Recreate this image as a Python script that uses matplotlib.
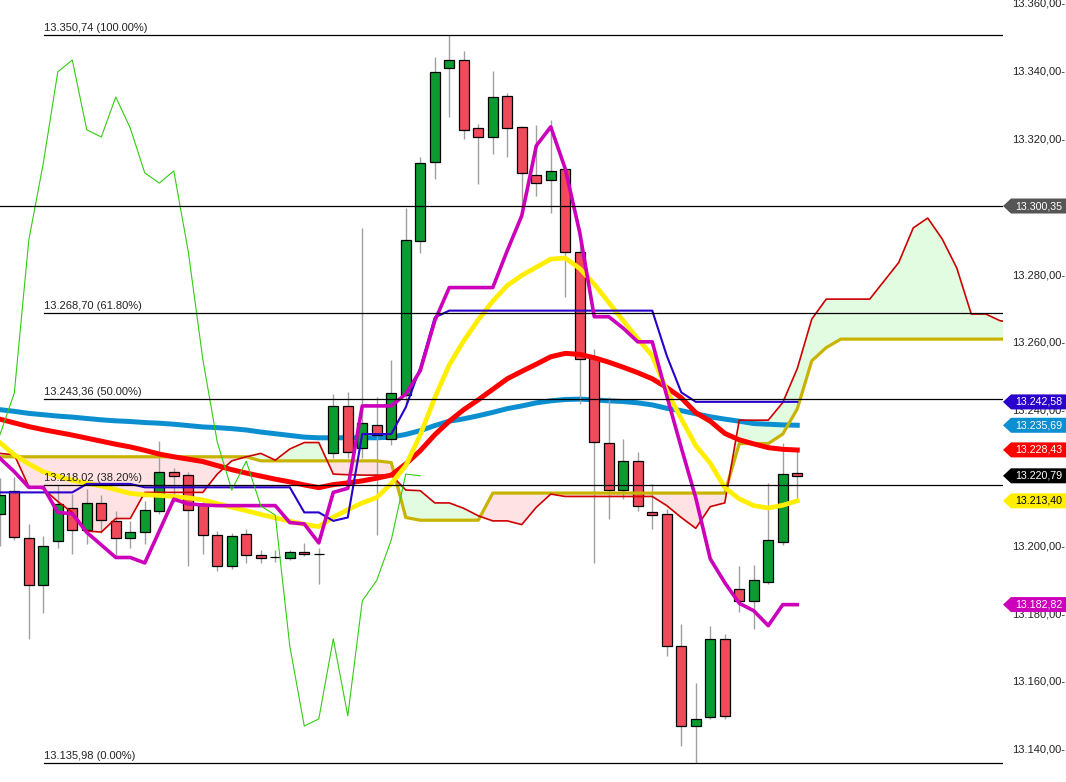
import numpy as np
import matplotlib
matplotlib.use("Agg")
import matplotlib.pyplot as plt
from matplotlib.patches import Polygon

plt.rcParams['font.family'] = ['Liberation Sans', 'DejaVu Sans']

# candles (one per bar, index 0..55)
opens = [13209.6, 13216.4, 13202.4, 13188.6, 13201.6, 13211.3, 13204.9, 13212.8, 13207.5, 13202.4,
         13204.2, 13210.5, 13221.9, 13221.0, 13212.6, 13203.3, 13194.3, 13203.6, 13197.5, 13196.8,
         13196.6, 13198.3, 13197.8, 13227.6, 13241.3, 13229.0, 13235.7, 13231.6, 13244.6, 13290.1,
         13313.3, 13341.0, 13343.4, 13323.3, 13320.7, 13332.8, 13323.6, 13309.5, 13308.0, 13311.3,
         13286.9, 13255.7, 13230.4, 13216.6, 13225.1, 13210.0, 13209.5, 13170.6, 13147.0, 13149.6,
         13172.7, 13187.4, 13183.9, 13189.5, 13201.3, 13221.6]
highs = [13220.0, 13220.5, 13206.6, 13202.9, 13218.2, 13215.5, 13217.0, 13215.0, 13210.5, 13207.5,
         13213.4, 13231.1, 13223.0, 13222.0, 13214.0, 13204.5, 13204.0, 13205.0, 13198.9, 13198.9,
         13198.9, 13201.0, 13199.6, 13245.0, 13245.4, 13294.0, 13243.9, 13255.0, 13299.8, 13314.7,
         13344.2, 13350.7, 13346.1, 13324.5, 13340.2, 13333.8, 13324.0, 13324.3, 13325.8, 13311.5,
         13290.3, 13258.2, 13244.1, 13231.6, 13227.7, 13218.4, 13211.0, 13177.2, 13159.8, 13176.6,
         13174.2, 13194.3, 13194.6, 13218.7, 13230.6, 13228.7]
lows = [13200.2, 13202.0, 13172.7, 13180.2, 13199.5, 13197.7, 13200.6, 13204.0, 13197.2, 13199.6,
        13200.8, 13209.6, 13213.0, 13194.3, 13197.7, 13192.6, 13193.3, 13195.0, 13195.2, 13195.5,
        13196.0, 13197.0, 13189.0, 13226.0, 13226.0, 13226.0, 13203.3, 13230.0, 13242.0, 13286.4,
        13308.3, 13326.5, 13320.0, 13306.8, 13315.7, 13314.7, 13299.9, 13303.2, 13298.3, 13273.4,
        13242.0, 13195.0, 13208.2, 13214.0, 13210.3, 13205.0, 13167.8, 13141.0, 13136.0, 13149.0,
        13149.0, 13180.5, 13175.6, 13189.0, 13200.5, 13213.9]
closes = [13215.2, 13202.6, 13188.6, 13200.1, 13212.5, 13204.8, 13212.8, 13207.8, 13202.5, 13204.2,
          13210.6, 13221.9, 13220.7, 13210.7, 13203.3, 13194.3, 13202.9, 13197.5, 13196.6, 13196.8,
          13198.3, 13197.7, 13197.8, 13241.3, 13227.9, 13236.3, 13232.8, 13245.2, 13290.3, 13313.0,
          13339.9, 13343.4, 13322.8, 13320.7, 13332.5, 13323.3, 13310.1, 13307.1, 13310.7, 13286.9,
          13255.2, 13230.7, 13216.6, 13225.1, 13211.9, 13209.2, 13170.6, 13147.0, 13149.1, 13172.7,
          13150.0, 13183.9, 13190.0, 13201.9, 13221.3, 13220.8]

# moving averages
sma_blue = [13240.3, 13239.8, 13239.2, 13238.8, 13238.4, 13238.1, 13237.7, 13237.3, 13237.0, 13236.8,
            13236.5, 13236.3, 13236.0, 13235.6, 13235.2, 13235.0, 13234.7, 13234.3, 13233.7, 13233.2,
            13232.7, 13232.2, 13232.0, 13232.0, 13232.0, 13232.0, 13232.0, 13232.2, 13233.0, 13234.1,
            13235.6, 13236.9, 13237.6, 13238.5, 13239.5, 13240.6, 13241.4, 13242.3, 13242.9, 13243.3,
            13243.4, 13243.2, 13242.9, 13242.7, 13242.3, 13241.7, 13240.7, 13240.0, 13239.1, 13238.2,
            13237.5, 13236.9, 13236.2, 13236.0, 13235.8, 13235.7]
sma_red = [13237.5, 13236.4, 13235.3, 13234.4, 13233.6, 13232.8, 13231.9, 13231.0, 13230.1, 13229.3,
           13228.3, 13227.2, 13226.4, 13225.7, 13225.0, 13223.8, 13222.6, 13221.6, 13220.7, 13219.8,
           13219.0, 13218.1, 13217.3, 13218.2, 13218.7, 13219.3, 13220.1, 13221.0, 13224.3, 13228.2,
           13232.9, 13236.9, 13240.3, 13243.2, 13246.3, 13249.4, 13251.6, 13253.7, 13255.9, 13256.9,
           13256.6, 13255.6, 13254.3, 13252.8, 13251.2, 13249.4, 13246.8, 13243.8, 13239.4, 13236.9,
           13233.3, 13231.4, 13230.2, 13229.1, 13228.6, 13228.4]
sma_yellow = [13230.6, 13227.0, 13224.3, 13222.0, 13220.6, 13219.5, 13218.6, 13217.8, 13216.7, 13215.6,
              13215.2, 13215.0, 13214.7, 13214.3, 13213.7, 13212.6, 13211.5, 13210.5, 13209.4, 13208.4,
              13207.4, 13206.5, 13205.8, 13208.6, 13210.8, 13212.8, 13214.4, 13218.5, 13223.8, 13232.9,
              13243.8, 13253.5, 13260.6, 13266.8, 13272.3, 13276.9, 13279.9, 13282.3, 13284.7, 13285.0,
              13281.9, 13277.3, 13271.9, 13266.5, 13261.2, 13256.2, 13245.9, 13237.6, 13229.7, 13224.5,
              13217.3, 13214.0, 13212.0, 13211.3, 13212.1, 13213.4]

# ichimoku
tenkan = [13226.0, 13222.0, 13217.4, 13217.4, 13210.0, 13209.6, 13204.1, 13200.4, 13196.7, 13196.7,
          13195.1, 13204.5, 13213.9, 13212.5, 13212.2, 13212.0, 13212.0, 13212.0, 13212.0, 13212.0,
          13207.0, 13206.6, 13201.0, 13215.9, 13217.1, 13241.4, 13241.4, 13241.4, 13244.9, 13251.8,
          13266.5, 13276.3, 13276.3, 13276.3, 13276.3, 13287.2, 13297.5, 13318.1, 13323.7, 13311.3,
          13292.5, 13267.7, 13267.7, 13264.3, 13260.3, 13260.3, 13244.4, 13229.1, 13214.3, 13196.3,
          13189.3, 13183.2, 13181.0, 13176.6, 13182.8, 13182.8]
kijun = [13215.9] * 6 + [13218.4] * 4 + [13217.4] * 11 + \
        [13210.0, 13210.0, 13207.5, 13208.5, 13233.1, 13233.1, 13233.1, 13241.0, 13252.7, 13267.5] + \
        [13269.5] * 15 + [13256.2, 13245.4] + [13242.6] * 8
span_a = [13227.4, 13227.0, 13217.6, 13217.0, 13213.2, 13210.0, 13204.5, 13204.2, 13208.2, 13208.2,
          13215.9, 13215.9, 13215.9, 13215.9, 13215.9, 13221.3, 13225.2, 13226.4, 13227.4, 13225.4,
          13228.7, 13230.6, 13230.6, 13221.3, 13221.1, 13221.0, 13221.0, 13221.0, 13216.6, 13216.4,
          13212.8, 13212.8, 13211.2, 13209.0, 13207.5, 13207.5, 13206.4, 13211.5, 13215.4, 13214.7,
          13214.7, 13214.7, 13214.7, 13214.7, 13214.7, 13214.7, 13212.0, 13208.5, 13205.3, 13211.7,
          13212.8, 13237.2, 13237.2, 13237.2, 13242.4, 13252.4, 13267.0, 13272.9, 13272.9, 13272.9,
          13272.9, 13278.3, 13283.7, 13293.9, 13296.8, 13290.6, 13282.1, 13268.5, 13268.5, 13266.5,
          13266.0]
span_b = [13226.4] * 18 + [13225.2] * 9 + [13224.7, 13208.5] + [13207.7] * 5 + [13215.7] * 17 + \
         [13230.3, 13230.3, 13230.3, 13233.1, 13240.5, 13254.7, 13258.6] + [13261.1] * 13
chikou = closes[26:]

# fibonacci retracement
fib_levels = [13350.74, 13268.70, 13243.36, 13218.02, 13135.98]
fib_labels = ['13.350,74 (100.00%)', '13.268,70 (61.80%)', '13.243,36 (50.00%)',
              '13.218,02 (38.20%)', '13.135,98 (0.00%)']
hline_level = 13300.35

# price tags on the right axis
tag_values = [13300.35, 13242.58, 13235.69, 13228.43, 13220.79, 13213.40, 13182.82]
tag_colors = ['#555555', '#2a00cc', '#0a8fd0', '#ff0000', '#000000', '#ffee00', '#cc00bb']
tag_text_colors = ['white', 'white', 'white', 'white', 'white', 'black', 'white']
# 13.300 and 13.220 sit fully under the tags, so they are not drawn
y_ticks = [13140, 13160, 13180, 13200, 13240, 13260, 13280, 13320, 13340, 13360]


def fmt(v):
    s = f"{v:,.2f}"
    return s.replace(',', 'X').replace('.', ',').replace('X', '.')


W, H = 1066, 782
fig = plt.figure(figsize=(W / 100, H / 100), dpi=100)
ax = fig.add_axes([0, 0, 1003 / W, 1])
ymin, ymax = 13130.5, 13361.1
ax.set_xlim(0.014, 69.19)
ax.set_ylim(ymin, ymax)
ax.axis('off')

x = np.arange(len(closes))
xs = np.arange(len(span_a))
a = np.array(span_a)
b = np.array(span_b)

# cloud fill
ax.fill_between(xs, a, b, where=a >= b, interpolate=True, color='#e2fce2', lw=0, zorder=1)
ax.fill_between(xs, a, b, where=a < b, interpolate=True, color='#ffe2e4', lw=0, zorder=1)

ax.plot(x, sma_blue, color='#0c8fd0', lw=3.6, zorder=2)

# candles
o = np.array(opens)
c = np.array(closes)
ax.vlines(x, lows, highs, color='#a0a0a0', lw=1.0, zorder=3)
cols = ['#0c9b30' if cc > oo else ('#f04b5a' if cc < oo else 'black') for oo, cc in zip(o, c)]
ax.bar(x, np.abs(c - o), bottom=np.minimum(o, c), width=0.69, color=cols,
       edgecolor='black', linewidth=0.9, zorder=4)

# fib + horizontal lines
ax.axhline(hline_level, color='black', lw=0.9, zorder=6)
for lv, lb in zip(fib_levels, fib_labels):
    ax.plot([3.05, 70], [lv, lv], color='black', lw=0.9, zorder=6)
    ax.annotate(lb, (3.05, lv), xytext=(0, 1.5), textcoords='offset points',
                va='bottom', ha='left', fontsize=8, color='#222222', zorder=7)

# ichimoku lines and averages
ax.plot(xs, span_b, color='#c8b400', lw=2.3, zorder=5)
ax.plot(xs, span_a, color='#cc0000', lw=1.2, zorder=5)
ax.plot(x, sma_red, color='#ff0000', lw=3.6, zorder=5)
ax.plot(x, sma_yellow, color='#ffee00', lw=3.4, zorder=5)
ax.plot(x, kijun, color='#2a00cc', lw=1.5, zorder=5)
ax.plot(x, tenkan, color='#cc00bb', lw=2.6, zorder=5)
ax.plot(np.arange(len(chikou)), chikou, color='#33cc11', lw=0.8, zorder=5)


def yfrac(v):
    return (v - ymin) / (ymax - ymin)


# right axis labels
for t in y_ticks:
    fig.text(1065 / W, yfrac(t), fmt(t) + '-', ha='right', va='center', fontsize=8, color='#222222')

# value tags
for v, fc, tc in zip(tag_values, tag_colors, tag_text_colors):
    yc = yfrac(v) * H
    pts = [(1003, yc), (1011, yc + 7.5), (1066, yc + 7.5), (1066, yc - 7.5), (1011, yc - 7.5)]
    pts = [(px / W, py / H) for px, py in pts]
    fig.add_artist(Polygon(pts, closed=True, transform=fig.transFigure,
                           facecolor=fc, edgecolor='none', zorder=4))
    fig.text(1015 / W, yfrac(v), fmt(v), ha='left', va='center', fontsize=7.7,
             color=tc, zorder=5)

fig.savefig('out.png', dpi=100)
